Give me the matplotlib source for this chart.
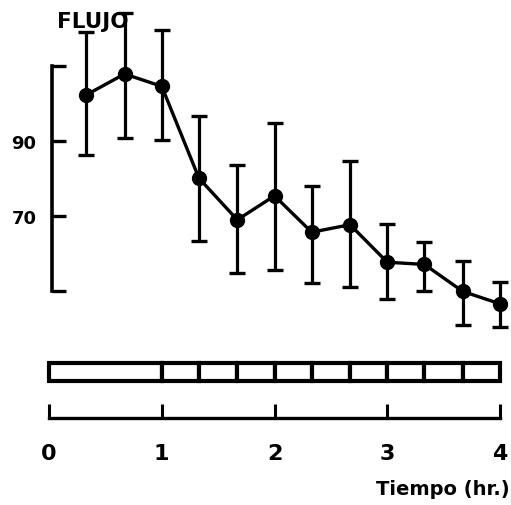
import matplotlib
matplotlib.use("Agg")
import matplotlib.pyplot as plt

# ---- data ----
tiempo = [0.33, 0.67, 1.0, 1.33, 1.67, 2.0, 2.33, 2.67, 3.0, 3.33, 3.67, 4.0]
flujo = [102.2, 107.8, 104.5, 80.0, 68.9, 75.3, 65.6, 67.6, 57.6, 57.0, 49.8, 46.5]
flujo_sup = [118.9, 124.0, 119.5, 96.7, 83.6, 94.6, 78.0, 84.7, 67.8, 63.1, 57.9, 52.3]
flujo_inf = [86.3, 90.6, 90.3, 63.3, 54.7, 55.4, 52.0, 50.9, 47.7, 49.8, 40.9, 40.2]

y_ticks = [50, 70, 90, 110]
y_labels = ["", "70", "90", ""]
x_ticks = [0, 1, 2, 3, 4]
x_labels = ["0", "1", "2", "3", "4"]

seg_inicio = [0, 1, 1.33, 1.67, 2.0, 2.33, 2.67, 3.0, 3.33, 3.67]
seg_fin = [1, 1.33, 1.67, 2.0, 2.33, 2.67, 3.0, 3.33, 3.67, 4.0]

W, H = 511, 506
fig = plt.figure(figsize=(W / 100, H / 100), dpi=100)
fig.patch.set_facecolor("white")

xlim = (-49 / 112.75, (W - 49) / 112.75)

# ---- main panel ----
ax = fig.add_axes([0, (H - 340) / H, 1, 340 / H])
ax.set_xlim(*xlim)
ax.set_ylim(90 - (340 - 141.7) / 3.75, 90 + 141.7 / 3.75)
ax.patch.set_alpha(0)
for s in ["top", "right", "bottom"]:
    ax.spines[s].set_visible(False)
ax.spines["left"].set_position(("data", 0.025))
ax.spines["left"].set_bounds(50, 110)
ax.spines["left"].set_linewidth(2.6)
ax.spines["left"].set_capstyle("projecting")
ax.set_yticks(y_ticks)
ax.set_yticklabels(y_labels)
ax.tick_params(axis="y", direction="in", length=10, width=2.4, pad=11,
               labelsize=13)
for lb in ax.get_yticklabels():
    lb.set_fontweight("bold")
ax.set_xticks([])

err_lo = [f - l for f, l in zip(flujo, flujo_inf)]
err_hi = [u - f for f, u in zip(flujo, flujo_sup)]
ax.errorbar(tiempo, flujo, yerr=[err_lo, err_hi], color="black", lw=2.4,
            elinewidth=2.3, capsize=6, capthick=2.4, marker="o",
            markersize=10, clip_on=False, zorder=3)

fig.text(57 / W, 1 - 28 / H, "FLUJO", fontsize=15.5, fontweight="bold",
         ha="left", va="baseline", zorder=10)

# ---- bottom panel: bar + time axis ----
ax2 = fig.add_axes([0, (H - 419) / H, 1, 69 / H])
ax2.set_xlim(*xlim)
ax2.set_ylim(0, 1)
ax2.patch.set_alpha(0)
for s in ["top", "right", "left"]:
    ax2.spines[s].set_visible(False)
ax2.spines["bottom"].set_bounds(0, 4)
ax2.spines["bottom"].set_linewidth(2.4)
ax2.spines["bottom"].set_capstyle("projecting")
ax2.set_yticks([])
ax2.set_xticks(x_ticks)
ax2.set_xticklabels(x_labels)
ax2.tick_params(axis="x", direction="in", length=10, width=2.2, pad=18,
                labelsize=16)
for lb in ax2.get_xticklabels():
    lb.set_fontweight("bold")

widths = [b - a for a, b in zip(seg_inicio, seg_fin)]
ax2.barh([0.665] * len(seg_inicio), widths, left=seg_inicio, height=0.27,
         color="white", edgecolor="black", linewidth=3.0)

fig.text(510 / W, 1 - 490 / H, "Tiempo (hr.)", fontsize=14, fontweight="bold",
         ha="right", va="center")

fig.savefig("out.png", dpi=100, facecolor="white")
